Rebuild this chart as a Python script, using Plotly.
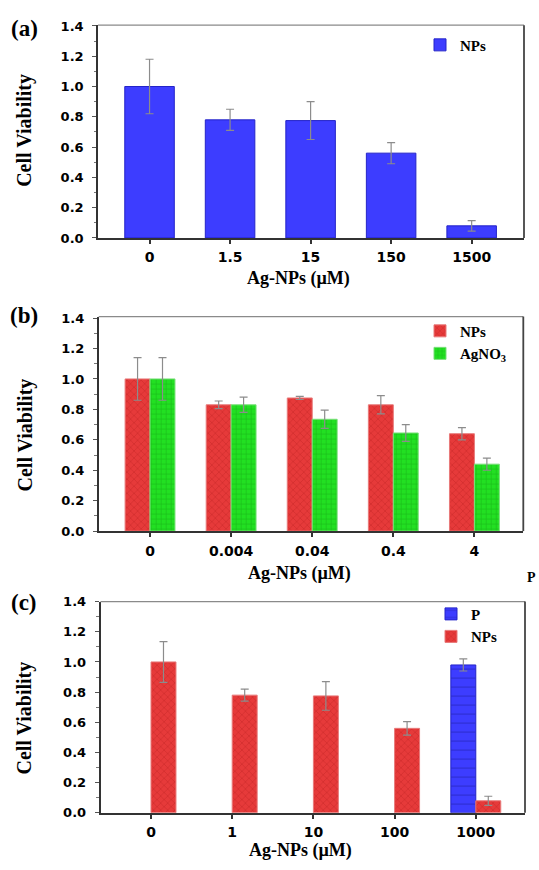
import plotly.graph_objects as go

# ---------------- data ----------------
conc_a = ["0", "1.5", "15", "150", "1500"]
via_a = [1.00, 0.78, 0.775, 0.56, 0.08]
err_a = [0.18, 0.07, 0.125, 0.07, 0.035]

conc_b = ["0", "0.004", "0.04", "0.4", "4"]
np_b = [1.00, 0.83, 0.875, 0.83, 0.64]
np_b_err = [0.14, 0.025, 0.01, 0.06, 0.04]
ag_b = [1.00, 0.83, 0.735, 0.645, 0.44]
ag_b_err = [0.14, 0.05, 0.06, 0.055, 0.04]

conc_c = ["0", "1", "10", "100", "1000"]
p_c = [None, None, None, None, 0.98]
p_c_err = [None, None, None, None, 0.04]
np_c = [1.00, 0.78, 0.775, 0.56, 0.08]
np_c_err = [0.135, 0.04, 0.095, 0.045, 0.03]

y_ticks = [0.0, 0.2, 0.4, 0.6, 0.8, 1.0, 1.2, 1.4]

# ---------------- styling helpers ----------------
W, H = 539, 870
def px(x):
    return x / W
def py(y):
    return 1 - y / H

BLUE = "#3d3dff"
RED = "#e63a3a"
GREEN = "#22e022"
SERIF = "Liberation Serif"
SANS = "DejaVu Sans"

def err(vals):
    return dict(type="data", array=vals, visible=True, color="#8c8c8c",
                thickness=1.2, width=4)

fig = go.Figure()

fig.add_trace(go.Bar(
    x=conc_a, y=via_a, name="NPs", error_y=err(err_a),
    marker=dict(color=BLUE, line=dict(color="#2424c8", width=1)),
    xaxis="x", yaxis="y", legend="legend"))

fig.add_trace(go.Bar(
    x=conc_b, y=np_b, name="NPs", error_y=err(np_b_err),
    marker=dict(color=RED, line=dict(color="#e87a7a", width=1),
                pattern=dict(shape="x", fgcolor="#b81e1e", size=5, solidity=0.25)),
    xaxis="x2", yaxis="y2", legend="legend2"))
fig.add_trace(go.Bar(
    x=conc_b, y=ag_b, name="AgNO<sub>3</sub>", error_y=err(ag_b_err),
    marker=dict(color=GREEN, line=dict(color="#7ae07a", width=1),
                pattern=dict(shape="+", fgcolor="#129a12", size=5, solidity=0.25)),
    xaxis="x2", yaxis="y2", legend="legend2"))

fig.add_trace(go.Bar(
    x=conc_c, y=p_c, name="P", error_y=err(p_c_err),
    marker=dict(color=BLUE, line=dict(color="#2424c8", width=1),
                pattern=dict(shape="-", fgcolor="#1c1c9c", size=9, solidity=0.12)),
    xaxis="x3", yaxis="y3", legend="legend3"))
fig.add_trace(go.Bar(
    x=conc_c, y=np_c, name="NPs", error_y=err(np_c_err),
    marker=dict(color=RED, line=dict(color="#e87a7a", width=1),
                pattern=dict(shape="x", fgcolor="#b81e1e", size=5, solidity=0.25)),
    xaxis="x3", yaxis="y3", legend="legend3"))

panels = [
    dict(x0=98, x1=524, y0=18.5, y1=235, xr=[-0.64, 4.65], yr=[0, 1.405]),
    dict(x0=98.7, x1=523.3, y0=315, y1=533.3, xr=[-0.633, 4.603], yr=[0, 1.41]),
    dict(x0=100.5, x1=525, y0=605, y1=820, xr=[-0.622, 4.606], yr=[0, 1.40]),
]

layout = dict(
    width=W, height=H, margin=dict(l=0, r=0, t=0, b=0),
    paper_bgcolor="white", plot_bgcolor="white",
    barmode="group", bargap=0.385, bargroupgap=0,
    showlegend=True,
)

suffix = ["", "2", "3"]
shapes = []
for i, p in enumerate(panels):
    s = suffix[i]
    layout["xaxis" + s] = dict(
        domain=[px(p["x0"]), px(p["x1"])], range=p["xr"], type="category",
        anchor="y" + s, showline=True, linecolor="#333333", linewidth=1.5,
        ticks="outside", ticklen=4, tickcolor="#333333", tickwidth=1.5,
        showgrid=False, zeroline=False,
        tickfont=dict(family=SANS, size=14, color="black", weight="bold"),
        ticklabelstandoff=2)
    layout["yaxis" + s] = dict(
        domain=[py(p["y1"]), py(p["y0"])], range=p["yr"], anchor="x" + s,
        tickvals=y_ticks, ticktext=["%.1f" % v for v in y_ticks],
        showline=True, linecolor="#333333", linewidth=1.5,
        ticks="outside", ticklen=4, tickcolor="#555555", tickwidth=1,
        minor=dict(dtick=0.1, tick0=0, ticks="outside", ticklen=2.5, tickcolor="#777777"),
        showgrid=False, zeroline=False,
        tickfont=dict(family=SANS, size=13, color="black", weight="bold"),
        ticklabelstandoff=6)
    shapes.append(dict(type="line", xref="x%s domain" % s, yref="y%s domain" % s,
                       x0=0, x1=1, y0=1, y1=1, line=dict(color="#8a8a8a", width=1.2)))
    shapes.append(dict(type="line", xref="x%s domain" % s, yref="y%s domain" % s,
                       x0=1, x1=1, y0=0, y1=1, line=dict(color="#444444", width=1.8)))

layout["shapes"] = shapes

leg_font = dict(family=SERIF, size=15, color="black", weight="bold")
layout["legend"] = dict(x=px(420), y=py(22), xanchor="left", yanchor="top",
                        bgcolor="rgba(0,0,0,0)", font=leg_font, tracegroupgap=0)
layout["legend2"] = dict(x=px(420), y=py(313), xanchor="left", yanchor="top",
                         bgcolor="rgba(0,0,0,0)", font=leg_font, tracegroupgap=0)
layout["legend3"] = dict(x=px(431), y=py(601), xanchor="left", yanchor="top",
                         bgcolor="rgba(0,0,0,0)", font=leg_font, tracegroupgap=0)

ann = []
xtitle_font = dict(family=SERIF, size=18, color="black", weight="bold")
ytitle_font = dict(family=SERIF, size=20, color="black", weight="bold")
lab_font = dict(family=SERIF, size=23, color="black", weight="bold")
for label, (lx, ly), (xtx, xty), (ytx, yty) in [
    ("(a)", (24, 22), (298, 276), (25, 126)),
    ("(b)", (24, 314), (299, 576), (25, 436)),
    ("(c)", (24, 606), (300, 858), (25, 724)),
]:
    ann.append(dict(text=label, x=px(lx), y=py(ly), xref="paper", yref="paper",
                    showarrow=False, font=lab_font, xanchor="center", yanchor="middle"))
    ann.append(dict(text="Ag-NPs (µM)", x=px(xtx), y=py(xty), xref="paper", yref="paper",
                    showarrow=False, font=xtitle_font, xanchor="center", yanchor="middle"))
    ann.append(dict(text="Cell Viability", x=px(ytx), y=py(yty), xref="paper", yref="paper",
                    showarrow=False, font=ytitle_font, textangle=-90,
                    xanchor="center", yanchor="middle"))
ann.append(dict(text="P", x=px(531), y=py(580), xref="paper", yref="paper",
                showarrow=False, font=dict(family=SERIF, size=14, color="black", weight="bold"),
                xanchor="center", yanchor="middle"))
layout["annotations"] = ann

fig.update_layout(**layout)
fig.write_html("out.html", config={"displayModeBar": False},
               post_script="document.body.style.margin='0';document.body.style.overflow='hidden';")
